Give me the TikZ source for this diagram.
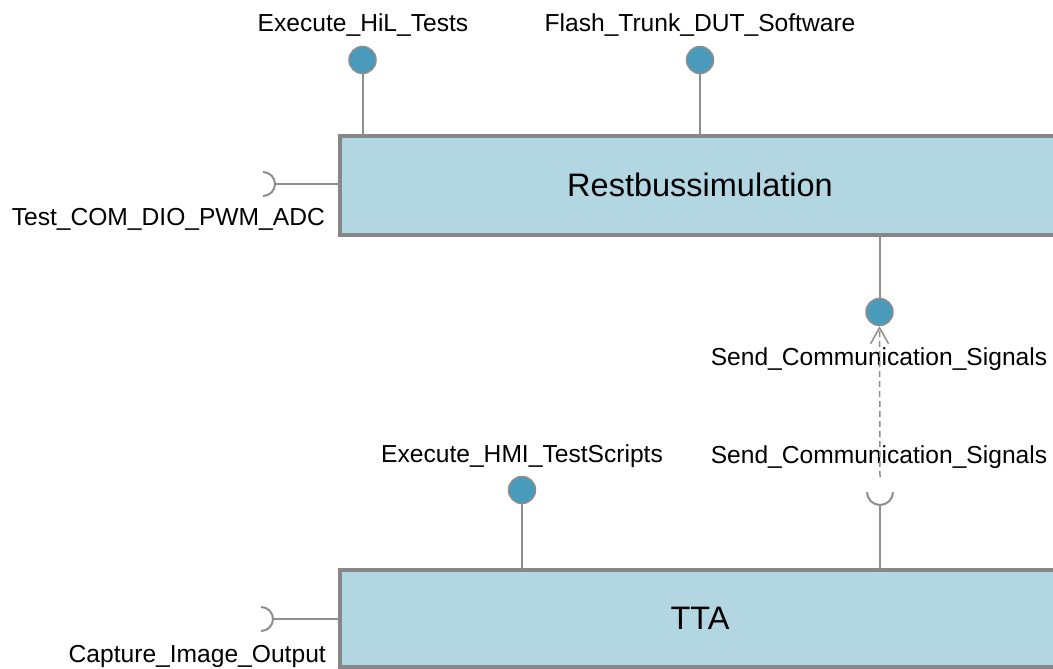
\documentclass[tikz,border=0pt]{standalone}
\usepackage{fontspec}
\setmainfont{Liberation Sans}
\usetikzlibrary{arrows.meta}
\definecolor{boxfill}{HTML}{B3D7E2}
\definecolor{boxline}{HTML}{878787}
\definecolor{ballfill}{HTML}{4A9BBB}
\definecolor{wire}{HTML}{8E8E8E}
\begin{document}
\begin{tikzpicture}[x=1pt,y=-1pt,
  comp/.style={draw=boxline, fill=boxfill, line width=4pt, outer sep=0pt, inner sep=0pt,
    minimum width=720pt, anchor=north west, font=\fontsize{32.5}{36}\selectfont},
  ball/.style={circle, draw=wire, fill=ballfill, line width=1.5pt, minimum size=27pt, inner sep=0pt},
  wireline/.style={draw=wire, line width=2pt},
  lbl/.style={font=\fontsize{24.6}{28}\selectfont, inner sep=0pt}]
\useasboundingbox (0,0) rectangle (1053,669);
% components
\node[comp, minimum height=99pt] (rb) at (340,135.5) {Restbussimulation};
\node[comp, minimum height=97pt] (tta) at (340,570) {TTA};
% balls (provided interfaces)
\node[ball] (b1) at (362.5,60) {};
\node[ball] (b2) at (700,60) {};
\node[ball] (b3) at (879.5,312) {};
\node[ball] (b4) at (522,490) {};
\draw[wireline] (b1) -- (b1 |- rb.north);
\draw[wireline] (b2) -- (b2 |- rb.north);
\draw[wireline] (b3) -- (b3 |- rb.south);
\draw[wireline] (b4) -- (b4 |- tta.north);
% sockets (required interfaces)
\coordinate (s1) at (275,184);
\coordinate (s2) at (273,619);
\coordinate (s3) at (880,505);
\draw[wireline] (263,172) arc[start angle=-90, end angle=90, radius=12];
\draw[wireline] (s1) -- (s1 -| rb.west);
\draw[wireline] (261,607) arc[start angle=-90, end angle=90, radius=12];
\draw[wireline] (s2) -- (s2 -| tta.west);
\draw[wireline] (867,492) arc[start angle=180, end angle=0, radius=13];
\draw[wireline] (s3) -- (s3 |- tta.north);
% labels
\node[lbl, anchor=base] (l1) at (363,32) {Execute\_HiL\_Tests};
\node[lbl, anchor=base] (l2) at (700,32) {Flash\_Trunk\_DUT\_Software};
\node[lbl, anchor=base east] (l3) at (325,225) {Test\_COM\_DIO\_PWM\_ADC};
\node[lbl, anchor=base east] (l4) at (326,662) {Capture\_Image\_Output};
\node[lbl, anchor=base] (l5) at (879,365) {Send\_Communication\_Signals};
\node[lbl, anchor=base] (l6) at (879,463) {Send\_Communication\_Signals};
\node[lbl, anchor=base] (l7) at (522,462) {Execute\_HMI\_TestScripts};
% dependency
\coordinate (d0) at (880,477);
\draw[draw=wire, line width=1.5pt, dash pattern=on 6pt off 4pt,
  -{Straight Barb[length=16pt, width=18pt, line width=1.5pt]}] (d0) -- (b3.south);
\end{tikzpicture}
\end{document}
